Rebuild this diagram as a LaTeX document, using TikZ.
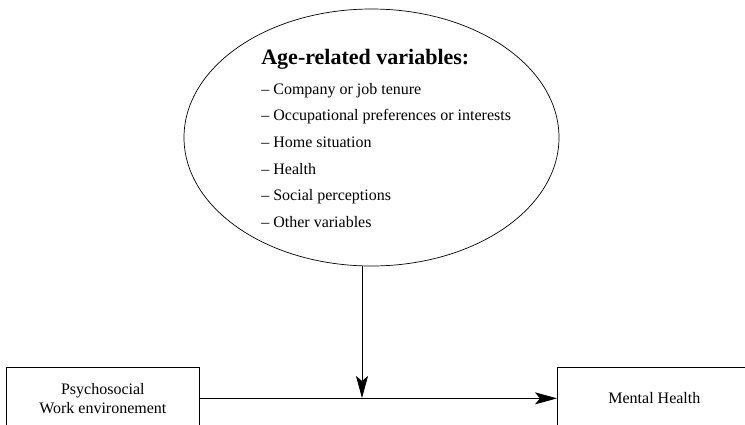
\documentclass[tikz,border=0pt]{standalone}
\usepackage{fontspec}
\setmainfont{Liberation Serif}
\usetikzlibrary{arrows.meta, positioning, shapes}

\begin{document}
\begin{tikzpicture}[x=1pt, y=-1pt, line width=0.7pt,
    >={Stealth[length=22pt, width=12pt, inset=5pt]},
    box/.style={draw, rectangle, align=center, minimum height=62pt, font=\fontsize{16}{19}\selectfont}]
    \useasboundingbox (0,0) rectangle (745,424);
    \clip (0,0) rectangle (745,424);

    \node (Vars) [ellipse, draw, minimum width=375pt, minimum height=257pt] at (371.5,137.5) {};
    \node (VarsText) [anchor=north west, align=left, inner sep=0pt,
        font=\fontsize{16}{26.6}\selectfont] at (261,49)
        {{\fontsize{22}{24}\selectfont\bfseries Age-related variables:}\\[3pt]
         – Company or job tenure\\
         – Occupational preferences or interests\\
         – Home situation\\
         – Health\\
         – Social perceptions\\
         – Other variables};

    \node (Work) [box, minimum width=193pt, anchor=north west] at (6,367) {Psychosocial\\Work environement};
    \node (Health) [box, minimum width=194pt, anchor=north west] at (557,367) {Mental Health};

    \coordinate (Join) at (362,398);
    \draw[->] (Work.east) -- (Health.west);
    \draw[->] (Vars.south -| Join) -- (Join);
\end{tikzpicture}
\end{document}
